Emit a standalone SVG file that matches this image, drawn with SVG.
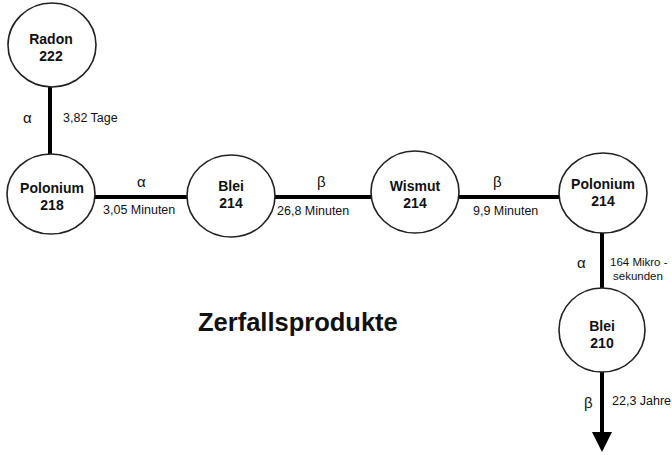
<svg xmlns="http://www.w3.org/2000/svg" width="672" height="455" viewBox="0 0 672 455">
<style>
.node ellipse{fill:#fff;stroke:#222;stroke-width:1.6}
.node text{font-family:"Liberation Sans",Arial,sans-serif;font-weight:bold;font-size:14px;fill:#111;text-anchor:middle}
.edge{stroke:#000;stroke-width:4;fill:none}
.lbl{font-family:"Liberation Sans",Arial,sans-serif;font-size:12.5px;fill:#111}
.sm{font-size:11.5px}
.gr{font-family:"Liberation Sans",Arial,sans-serif;font-size:15px;fill:#111}
.title{font-family:"Liberation Sans",Arial,sans-serif;font-weight:bold;font-size:25.5px;fill:#111}
</style>
<rect width="672" height="455" fill="#fff"/>
<g id="connectors">
<line class="edge" x1="50" y1="86" x2="50" y2="155"/>
<line class="edge" x1="94" y1="197" x2="188" y2="197"/>
<line class="edge" x1="274" y1="197" x2="372" y2="197"/>
<line class="edge" x1="458" y1="197" x2="560" y2="197"/>
<line class="edge" x1="602" y1="232" x2="602" y2="289"/>
<line class="edge" x1="602" y1="372" x2="602" y2="434"/>
<polygon points="592,432 612,432 602,452" fill="#000"/>
<text class="gr" x="23" y="123">α</text>
<text class="lbl" x="63" y="122">3,82 Tage</text>
<text class="gr" x="137" y="187">α</text>
<text class="lbl" x="103" y="214">3,05 Minuten</text>
<text class="gr" x="317" y="187">β</text>
<text class="lbl" x="277" y="215">26,8 Minuten</text>
<text class="gr" x="493" y="187">β</text>
<text class="lbl" x="473" y="215">9,9 Minuten</text>
<text class="gr" x="577" y="268">α</text>
<text class="lbl sm" x="610" y="266">164 Mikro -</text>
<text class="lbl sm" x="613" y="280">sekunden</text>
<text class="gr" x="584" y="408">β</text>
<text class="lbl" x="612" y="405">22,3 Jahre</text>
</g>
<g id="radon222" class="node"><ellipse cx="52" cy="45" rx="44" ry="42"/><text x="51" y="44">Radon</text><text x="51" y="61">222</text></g>
<g id="polonium218" class="node"><ellipse cx="51" cy="194" rx="44" ry="40"/><text x="52" y="193">Polonium</text><text x="52" y="210">218</text></g>
<g id="blei214" class="node"><ellipse cx="231" cy="196" rx="44" ry="41"/><text x="231" y="191">Blei</text><text x="231" y="208">214</text></g>
<g id="wismut214" class="node"><ellipse cx="415" cy="192" rx="44" ry="41"/><text x="415" y="191">Wismut</text><text x="415" y="208">214</text></g>
<g id="polonium214" class="node"><ellipse cx="603" cy="193" rx="44" ry="40"/><text x="603" y="189">Polonium</text><text x="603" y="206">214</text></g>
<g id="blei210" class="node"><ellipse cx="602" cy="330" rx="43" ry="42"/><text x="602" y="331">Blei</text><text x="602" y="348">210</text></g>
<text class="title" x="198" y="331">Zerfallsprodukte</text>
</svg>
